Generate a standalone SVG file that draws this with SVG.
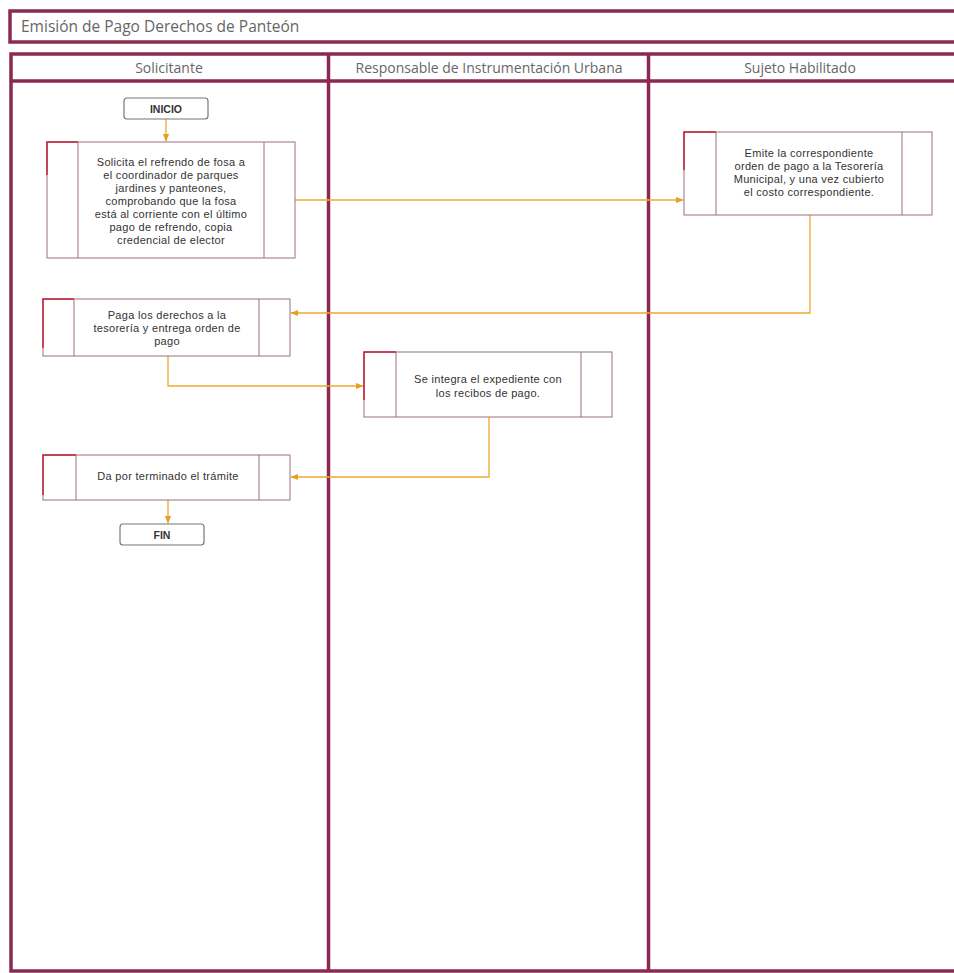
<svg xmlns="http://www.w3.org/2000/svg" width="954" height="973" viewBox="0 0 954 973">
<style>
.frame{fill:none;stroke:#8a2a52;stroke-width:3.5}
.lane{fill:none;stroke:#8a2a52;stroke-width:3.5}
.title{font-family:"Open Sans","Liberation Sans",sans-serif;font-size:15.5px;fill:#666}
.hdr{font-family:"Open Sans","Liberation Sans",sans-serif;font-size:14px;fill:#666;text-anchor:middle}
.box{fill:#fff;stroke:#9a7080;stroke-width:1}
.div{stroke:#9a7080;stroke-width:1}
.acc{fill:none;stroke:#c0203a;stroke-width:1.5}
.t{font-family:"Liberation Sans",Arial,sans-serif;font-size:11px;letter-spacing:0.3px;fill:#333;text-anchor:middle}
.term{fill:#fff;stroke:#777;stroke-width:1.2}
.tb{font-family:"Liberation Sans",Arial,sans-serif;font-size:10.5px;font-weight:bold;fill:#333;text-anchor:middle}
.c{fill:none;stroke:#f0a830;stroke-width:1.3}
</style>
<defs>
<marker id="ah" viewBox="0 0 10 10" refX="9" refY="5" markerWidth="6" markerHeight="6" orient="auto">
<path d="M0,1 L10,5 L0,9 z" fill="#e8a020"/>
</marker>
</defs>
<rect width="954" height="973" fill="#fff"/>
<g id="title">
<rect class="frame" x="10" y="11" width="960" height="31"/>
<text class="title" x="21" y="32">Emisión de Pago Derechos de Panteón</text>
</g>
<g id="lanes">
<rect class="lane" x="11" y="54" width="960" height="917"/>
<line class="lane" x1="11" y1="81" x2="960" y2="81"/>
<line class="lane" x1="328.5" y1="54" x2="328.5" y2="971"/>
<line class="lane" x1="648.5" y1="54" x2="648.5" y2="971"/>
<text class="hdr" x="169" y="73">Solicitante</text>
<text class="hdr" x="489" y="73">Responsable de Instrumentación Urbana</text>
<text class="hdr" x="800" y="73">Sujeto Habilitado</text>
</g>
<g id="connectors">
<path class="c" d="M166,119 V141" marker-end="url(#ah)"/>
<path class="c" d="M295,200 H683" marker-end="url(#ah)"/>
<path class="c" d="M810,215 V313 H291" marker-end="url(#ah)"/>
<path class="c" d="M168,356 V386 H363" marker-end="url(#ah)"/>
<path class="c" d="M489,417 V477 H291" marker-end="url(#ah)"/>
<path class="c" d="M168,500 V523" marker-end="url(#ah)"/>
</g>
<g id="inicio">
<rect class="term" x="124" y="98" width="84" height="21" rx="3"/>
<text class="tb" x="166" y="112.5">INICIO</text>
</g>
<g id="n1">
<rect class="box" x="47" y="142" width="248" height="116"/>
<line class="div" x1="78" y1="142" x2="78" y2="258"/>
<line class="div" x1="264" y1="142" x2="264" y2="258"/>
<path class="acc" d="M47,175 V142 H78"/>
<text class="t" x="171" y="166">Solicita el refrendo de fosa a</text>
<text class="t" x="171" y="179">el coordinador de parques</text>
<text class="t" x="171" y="192">jardines y panteones,</text>
<text class="t" x="171" y="205">comprobando que la fosa</text>
<text class="t" x="171" y="218">está al corriente con el último</text>
<text class="t" x="171" y="231">pago de refrendo, copia</text>
<text class="t" x="171" y="244">credencial de elector</text>
</g>
<g id="n2">
<rect class="box" x="684" y="132" width="248" height="83"/>
<line class="div" x1="716" y1="132" x2="716" y2="215"/>
<line class="div" x1="902" y1="132" x2="902" y2="215"/>
<path class="acc" d="M684,170 V132 H716"/>
<text class="t" x="809" y="157">Emite la correspondiente</text>
<text class="t" x="809" y="170">orden de pago a la Tesorería</text>
<text class="t" x="809" y="183">Municipal, y una vez cubierto</text>
<text class="t" x="809" y="196">el costo correspondiente.</text>
</g>
<g id="n3">
<rect class="box" x="43" y="299" width="247" height="57"/>
<line class="div" x1="74" y1="299" x2="74" y2="356"/>
<line class="div" x1="259" y1="299" x2="259" y2="356"/>
<path class="acc" d="M43,348 V299 H74"/>
<text class="t" x="167" y="319">Paga los derechos a la</text>
<text class="t" x="167" y="332">tesorería y entrega orden de</text>
<text class="t" x="167" y="345">pago</text>
</g>
<g id="n4">
<rect class="box" x="364" y="352" width="248" height="65"/>
<line class="div" x1="396" y1="352" x2="396" y2="417"/>
<line class="div" x1="581" y1="352" x2="581" y2="417"/>
<path class="acc" d="M364,400 V352 H396"/>
<text class="t" x="488" y="383">Se integra el expediente con</text>
<text class="t" x="488" y="397">los recibos de pago.</text>
</g>
<g id="n5">
<rect class="box" x="43" y="455" width="247" height="45"/>
<line class="div" x1="76" y1="455" x2="76" y2="500"/>
<line class="div" x1="259" y1="455" x2="259" y2="500"/>
<path class="acc" d="M43,495 V455 H76"/>
<text class="t" x="168" y="480">Da por terminado el trámite</text>
</g>
<g id="fin">
<rect class="term" x="120" y="524" width="84" height="21" rx="3"/>
<text class="tb" x="162" y="538.5">FIN</text>
</g>
</svg>
